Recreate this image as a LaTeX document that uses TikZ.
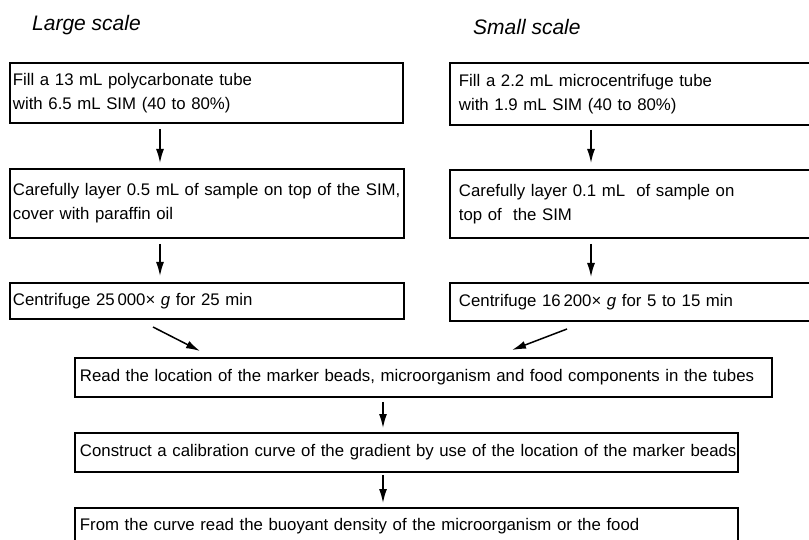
\documentclass[tikz,border=0pt]{standalone}
\usepackage{fontspec}
\setmainfont{Liberation Sans}
\usetikzlibrary{arrows.meta}

\tikzset{
  stepbox/.style={draw, line width=1.9bp, rectangle, anchor=north west,
    align=left, inner ysep=0bp, font=\fontsize{16.8bp}{24bp}\selectfont},
  flow/.style={-{Latex[length=14bp,width=8bp]}, line width=1.5bp},
  heading/.style={anchor=west, inner sep=0bp, font=\fontsize{21bp}{24bp}\selectfont\itshape}
}

\begin{document}
\begin{tikzpicture}[x=1bp,y=-1bp]

\useasboundingbox (0,0) rectangle (809,540);
\clip (0,0) rectangle (809,540);

% headings
\node[heading] (hl) at (32,25) {Large scale};
\node[heading] (hr) at (473,27) {Small scale};

% large scale column
\node[stepbox, inner xsep=3bp, text width=387bp, minimum height=60bp] (lb1) at (9,62)
  {Fill a 13 mL\ polycarbonate tube\\with 6.5 mL\ SIM (40 to 80\%)};
\node[stepbox, inner xsep=3bp, text width=388bp, minimum height=69bp] (lb2) at (9,168)
  {\mbox{Carefully layer 0.5 mL of sample on top of the SIM,}\\cover with paraffin oil};
\node[stepbox, inner xsep=3bp, text width=388bp, minimum height=36bp] (lb3) at (9,282)
  {Centrifuge 25\,000× \textit{g} for 25 min};

% small scale column
\node[stepbox, inner xsep=9bp, text width=362bp, minimum height=62bp] (rb1) at (449,62)
  {Fill a 2.2\ mL\ microcentrifuge tube\\with 1.9\ mL\ SIM (40 to 80\%)};
\node[stepbox, inner xsep=9bp, text width=362bp, minimum height=68bp] (rb2) at (449,169)
  {Carefully layer 0.1 mL\ \ of sample on\\top of\ \ the SIM};
\node[stepbox, inner xsep=9bp, text width=362bp, minimum height=38bp] (rb3) at (449,282)
  {Centrifuge 16\,200× \textit{g} for 5 to 15 min};

% common steps
\node[stepbox, inner xsep=5bp, text width=687bp, minimum height=39bp] (cb1) at (74,357)
  {Read the location of the marker beads, microorganism and food components in the tubes};
\node[stepbox, inner xsep=5bp, text width=653bp, minimum height=39bp] (cb2) at (74,432)
  {\mbox{Construct a calibration curve of the gradient by use of the location of the marker beads}};
\node[stepbox, inner xsep=5bp, text width=653bp, minimum height=36bp] (cb3) at (74,507)
  {From the curve read the buoyant density of the microorganism or the food};

% arrows
\coordinate (aL) at (160,0);
\coordinate (aR) at (591,0);
\coordinate (aB) at (383,0);

\draw[flow, shorten <=5bp, shorten >=5bp] (lb1.south -| aL) -- (lb2.north -| aL);
\draw[flow, shorten <=5bp, shorten >=6bp] (lb2.south -| aL) -- (lb3.north -| aL);
\draw[flow, shorten <=4bp, shorten >=6bp] (rb1.south -| aR) -- (rb2.north -| aR);
\draw[flow, shorten <=5bp, shorten >=5bp] (rb2.south -| aR) -- (rb3.north -| aR);

\coordinate (dl1) at (153,327);
\coordinate (dl2) at (200,351);
\coordinate (dr1) at (567,329);
\coordinate (dr2) at (512,350);
\draw[flow] (dl1) -- (dl2);
\draw[flow] (dr1) -- (dr2);

\draw[flow, shorten <=4bp, shorten >=4bp] (cb1.south -| aB) -- (cb2.north -| aB);
\draw[flow, shorten <=2bp, shorten >=4bp] (cb2.south -| aB) -- (cb3.north -| aB);

\end{tikzpicture}
\end{document}
